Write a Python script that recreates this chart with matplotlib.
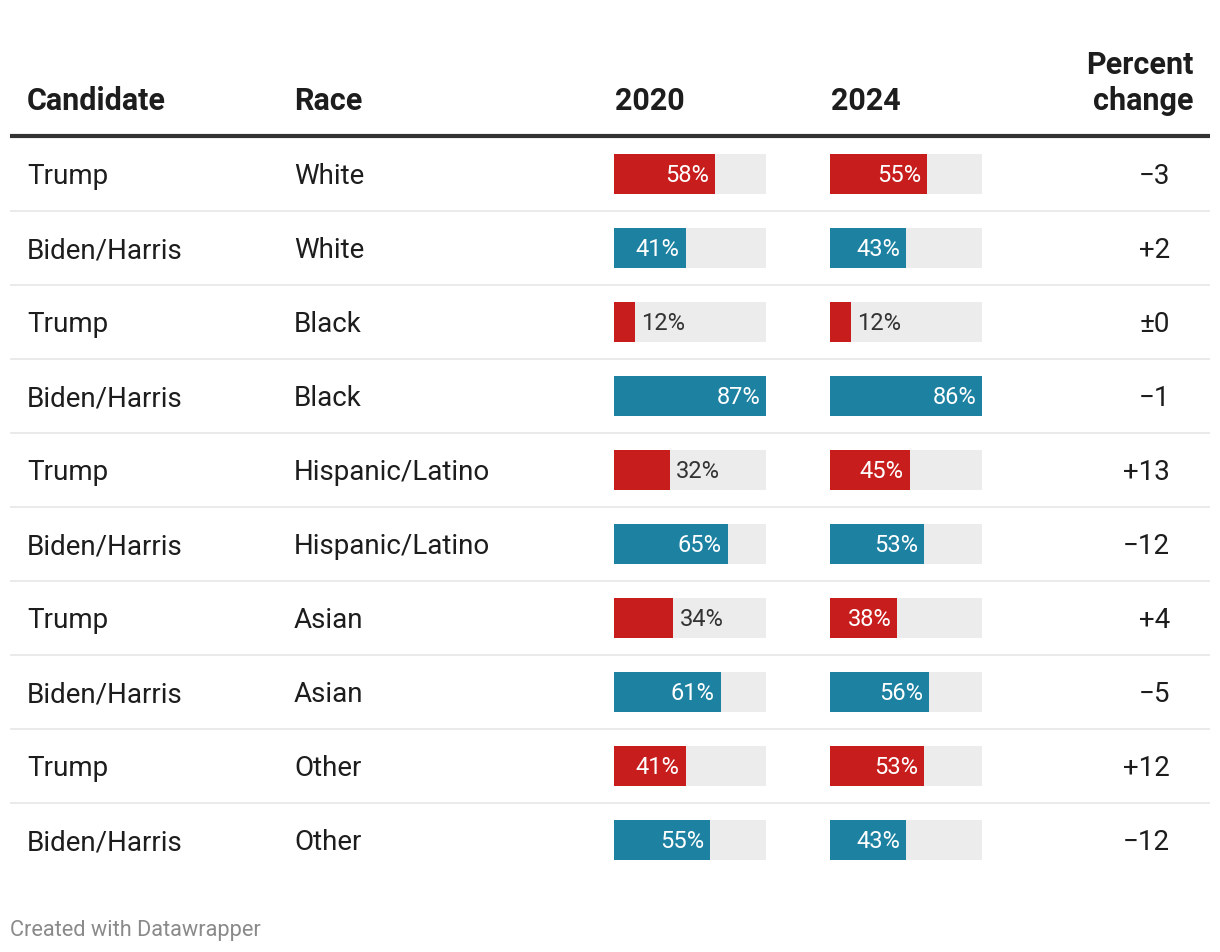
import matplotlib
matplotlib.use("Agg")
import matplotlib.pyplot as plt

candidates = ["Trump", "Biden/Harris"] * 5
races = ["White", "White", "Black", "Black", "Hispanic/Latino", "Hispanic/Latino",
         "Asian", "Asian", "Other", "Other"]
party = ["R", "D"] * 5
v2020 = [58, 41, 12, 87, 32, 65, 34, 61, 41, 55]
v2024 = [55, 43, 12, 86, 45, 53, 38, 56, 53, 43]
change = ["\u22123", "+2", "\u00b10", "\u22121", "+13", "\u221212", "+4", "\u22125", "+12", "\u221212"]
headers = ["Candidate", "Race", "2020", "2024"]

RED = "#c71e1d"
BLUE = "#1d81a2"
BG = "#ececec"
TXT = "#1d1d1d"

plt.rcParams['font.family'] = ['Roboto', 'DejaVu Sans']

W, H = 1220, 952
fig = plt.figure(figsize=(W / 100, H / 100), dpi=100)
ax = fig.add_axes([0, 0, 1, 1])
ax.set_xlim(0, W)
ax.set_ylim(H, 0)
ax.axis("off")

row_h = 74
first_c = 174
n = len(candidates)
centers = [first_c + i * row_h for i in range(n)]

# header
hdr_kw = dict(fontsize=22, fontweight="bold", color=TXT, va="baseline")
ax.text(27, 110, headers[0], ha="left", **hdr_kw)
ax.text(294, 110, headers[1], ha="left", **hdr_kw)
ax.text(615, 110, headers[2], ha="left", **hdr_kw)
ax.text(831, 110, headers[3], ha="left", **hdr_kw)
ax.text(1193, 74, "Percent", ha="right", **hdr_kw)
ax.text(1193, 110, "change", ha="right", **hdr_kw)
ax.plot([10, 1210], [136, 136], color="#333333", lw=3, solid_capstyle="butt")

# separators
for i in range(n - 1):
    y = centers[i] + row_h / 2
    ax.plot([10, 1210], [y, y], color="#e6e6e6", lw=1.2, solid_capstyle="butt")

body_kw = dict(fontsize=20, color=TXT, va="baseline")
for i in range(n):
    yb = centers[i] + 10
    ax.text(27, yb, candidates[i], ha="left", **body_kw)
    ax.text(294, yb, races[i], ha="left", **body_kw)
    ax.text(1170, yb, change[i], ha="right", **body_kw)

ax.text(10, 936, "Created with Datawrapper", fontsize=15.7, color="#8a8a8a",
        ha="left", va="baseline")

# bar columns
top = centers[0] - row_h / 2
bottom = centers[-1] + row_h / 2
col_w = 152
for x0, vals in [(614, v2020), (830, v2024)]:
    bax = fig.add_axes([x0 / W, 1 - bottom / H, col_w / W, (bottom - top) / H])
    vmax = max(vals)
    bax.set_xlim(0, vmax)
    bax.set_ylim(n - 0.5, -0.5)
    bax.axis("off")
    ys = list(range(n))
    bh = 40 / row_h
    bax.barh(ys, [vmax] * n, height=bh, color=BG, linewidth=0)
    cols = [RED if p == "R" else BLUE for p in party]
    bax.barh(ys, vals, height=bh, color=cols, linewidth=0)
    for i, v in enumerate(vals):
        px = v / vmax * col_w
        lbl = f"{v}%"
        if px > 64:
            bax.annotate(lbl, (v, i), xytext=(-6, -2), textcoords="offset pixels",
                         ha="right", va="center", fontsize=17, color="white")
        else:
            bax.annotate(lbl, (v, i), xytext=(6, -2), textcoords="offset pixels",
                         ha="left", va="center", fontsize=17, color="#333333")

fig.savefig("out.png", dpi=100, facecolor="white")
